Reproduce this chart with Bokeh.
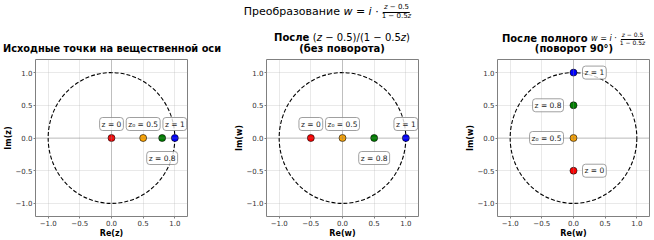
from bokeh.plotting import figure
from bokeh.models import Label, Span, FixedTicker, Div
from bokeh.layouts import column, row
from bokeh.embed import file_html
from bokeh.resources import INLINE

# ---- data ----
point_labels = ["z = 0", "z\u2080 = 0.5", "z = 0.8", "z = 1"]
point_colors = ["red", "orange", "green", "blue"]

z_re = [0.0, 0.5, 0.8, 1.0]
z_im = [0.0, 0.0, 0.0, 0.0]

w1_re = [-0.5, 0.0, 0.5, 1.0]
w1_im = [0.0, 0.0, 0.0, 0.0]

w2_re = [0.0, 0.0, 0.0, 0.0]
w2_im = [-0.5, 0.0, 0.5, 1.0]

place_real = ["above", "above", "below", "above"]
place_imag = ["right", "left", "left", "right"]

tick_vals = [-1.0, -0.5, 0.0, 0.5, 1.0]
tick_labels = ["\u22121.0", "\u22120.5", "0.0", "0.5", "1.0"]

x_labels = ["Re(z)", "Re(w)", "Re(w)"]
y_labels = ["Im(z)", "Im(w)", "Im(w)"]

FONT = "DejaVu Sans"


def make_panel(width, right, xs, ys, places, xlab, ylab):
    p = figure(width=width, height=184, x_range=(-1.2, 1.2), y_range=(-1.2, 1.2),
               output_backend="svg", toolbar_location=None,
               min_border_left=35, min_border_right=right,
               min_border_top=3, min_border_bottom=0)
    p.background_fill_color = "white"
    p.outline_line_color = "#808080"
    p.outline_line_width = 1
    ticker = FixedTicker(ticks=tick_vals)
    for ax in (p.xaxis[0], p.yaxis[0]):
        ax.ticker = ticker
        ax.major_label_overrides = {v: s for v, s in zip(tick_vals, tick_labels)}
        ax.major_label_text_font = FONT
        ax.major_label_text_font_size = "7px"
        ax.major_label_text_color = "#333333"
        ax.axis_label_text_font = FONT
        ax.axis_label_text_font_size = "8px"
        ax.axis_label_text_font_style = "bold"
        ax.axis_label_text_color = "#000000"
        ax.axis_line_color = None
        ax.major_tick_line_color = "#808080"
        ax.major_tick_out = 2
        ax.major_tick_in = 0
        ax.minor_tick_line_color = None
        ax.major_label_standoff = 1
        ax.axis_label_standoff = 0
    p.xaxis.axis_label = xlab
    p.yaxis.axis_label = ylab
    p.grid.ticker = ticker
    p.grid.grid_line_color = "#b0b0b0"
    p.grid.grid_line_alpha = 0.35
    p.grid.grid_line_width = 0.8

    p.add_layout(Span(location=0, dimension="width", line_color="gray",
                      line_width=0.8, line_alpha=0.5))
    p.add_layout(Span(location=0, dimension="height", line_color="gray",
                      line_width=0.8, line_alpha=0.5))

    p.ellipse(x=[0], y=[0], width=[2], height=[2], fill_color=None,
              line_color="black", line_dash="4 2", line_width=1.1)

    p.scatter(x=xs, y=ys, size=7, fill_color=point_colors, line_color="black",
              line_width=0.6)

    for x, y, t, pl in zip(xs, ys, point_labels, places):
        if pl == "above":
            kw = dict(text_align="center", x_offset=0, y_offset=14)
        elif pl == "below":
            kw = dict(text_align="center", x_offset=0, y_offset=-20)
        elif pl == "right":
            kw = dict(text_align="left", x_offset=9, y_offset=0)
        else:
            kw = dict(text_align="right", x_offset=-10, y_offset=0)
        p.add_layout(Label(x=x, y=y, text=t, text_baseline="middle",
                           text_font=FONT, text_font_size="7.5px",
                           text_color="#222222",
                           padding=2, border_radius=3,
                           background_fill_color="white", background_fill_alpha=0.8,
                           border_line_color="#888888", border_line_width=0.8,
                           **kw))
    return p


p1 = make_panel(231, 44, z_re, z_im, place_real, x_labels[0], y_labels[0])
p2 = make_panel(231, 44, w1_re, w1_im, place_real, x_labels[1], y_labels[1])
p3 = make_panel(192, 5, w2_re, w2_im, place_imag, x_labels[2], y_labels[2])


def frac(num, den, size):
    return ('<span style="display:inline-flex;flex-direction:column;align-items:center;'
            'vertical-align:middle;font-size:%s;font-weight:normal;line-height:1.05;margin-left:2px">'
            '<span style="border-bottom:0.8px solid #000;padding:0 1px">%s</span>'
            '<span style="padding:0 1px">%s</span></span>' % (size, num, den))


NUM = "<i>z</i> \u2212 0.5"
DEN = "1 \u2212 0.5<i>z</i>"


def line(cx, cy, h, size, bold, html):
    return ('<div style="position:absolute;left:%dpx;top:%dpx;height:%dpx;transform:translateX(-50%%);'
            'white-space:nowrap;display:flex;align-items:center;font-size:%s;font-weight:%s;">%s</div>'
            % (cx, cy - h // 2, h, size, "bold" if bold else "normal", html))


header = (
    '<div style="position:relative;width:654px;height:56px;font-family:\'DejaVu Sans\';color:#000;">'
    + line(328, 12, 22, "11px", False,
           'Преобразование&nbsp;<i>w</i>&nbsp;=&nbsp;<i>i</i>&nbsp;·' + frac(NUM, DEN, "7px"))
    + line(112, 49, 12, "9.8px", True, 'Исходные точки на вещественной оси')
    + line(342, 38, 12, "10px", True,
           'После&nbsp;<span style="font-weight:normal">(<i>z</i> \u2212 0.5)/(1 \u2212 0.5<i>z</i>)</span>')
    + line(342, 49, 12, "10px", True, '(без поворота)')
    + line(574, 39, 16, "10px", True,
           'После полного&nbsp;<span style="font-weight:normal;font-size:8px"><i>w</i> = <i>i</i> ·</span>'
           + frac(NUM, DEN, "6px"))
    + line(574, 49, 12, "10px", True, '(поворот 90°)')
    + '</div>'
)

head = Div(text=header, width=654, height=56, margin=0)

layout = column(head, row(p1, p2, p3, spacing=0), spacing=0)

open("out.html", "w").write(file_html(layout, INLINE))
